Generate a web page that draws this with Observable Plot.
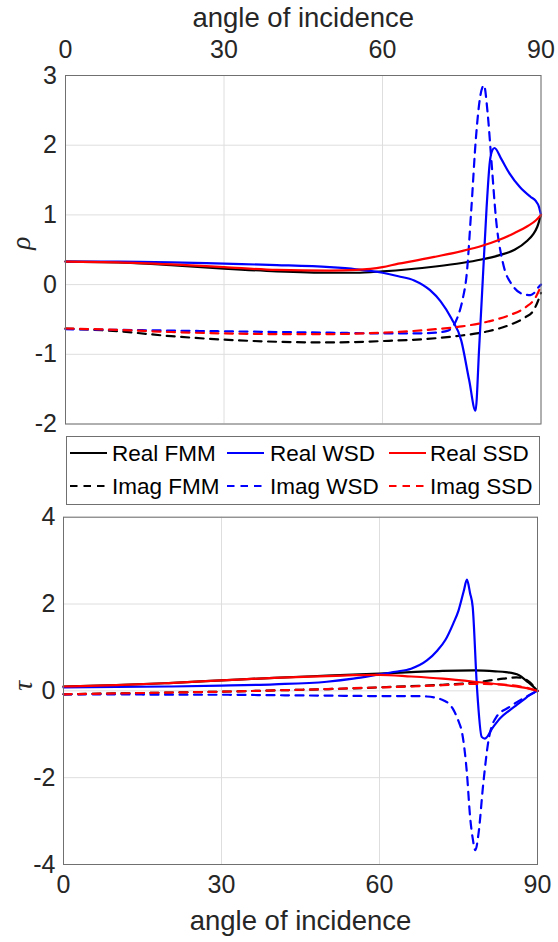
<!DOCTYPE html>
<html><head><meta charset="utf-8">
<script src="https://cdn.jsdelivr.net/npm/d3@7"></script>
<script src="https://cdn.jsdelivr.net/npm/@observablehq/plot@0.6"></script>
<style>
body{margin:0;background:#fff;}
#wrap{position:relative;width:558px;height:942px;font-family:'Liberation Sans',Arial,sans-serif;color:#262626;overflow:hidden;}
#top{position:absolute;left:0;top:0;}
#bot{position:absolute;left:0;top:505px;}
#legend{position:absolute;left:66px;top:436px;}
</style></head><body>
<div id="wrap"><div id="top"></div><div id="legend"></div><div id="bot"></div></div>
<script>
// ---- tick labels / axis text ----
const xTicks = [0, 30, 60, 90];
const rhoTicks = [-2, -1, 0, 1, 2, 3];
const tauTicks = [-4, -2, 0, 2, 4];
const xLabel = "angle of incidence";
const rhoLabel = "ρ";
const tauLabel = "τ";

// ---- series (legend order, row-wise) ----
const legendNames = ["Real FMM", "Real WSD", "Real SSD", "Imag FMM", "Imag WSD", "Imag SSD"];

// ρ panel
const rhoRealFMM_x = [0,10,20,30,40,50,55,60,65,70,75,78.7,82,85,87.4,88.5,89.3,90];
const rhoRealFMM_y = [0.33,0.32,0.28,0.23,0.19,0.17,0.17,0.19,0.22,0.26,0.31,0.36,0.42,0.5,0.63,0.72,0.83,1.0];
const rhoImagFMM_x = [0,10,20,30,40,50,60,70,75,80,84,87,88.5,89.3,90];
const rhoImagFMM_y = [-0.63,-0.67,-0.74,-0.79,-0.82,-0.83,-0.81,-0.77,-0.73,-0.67,-0.58,-0.47,-0.38,-0.26,-0.12];
const rhoRealWSD_x = [0,10,20,30,40,50,55,60,63,66,69,71,73,74.9,76.4,77.6,78.3,79.0,79.7,80.3,80.8,81.2,82.5,84,86,88,89,89.6,90];
const rhoRealWSD_y = [0.33,0.33,0.32,0.30,0.28,0.25,0.22,0.17,0.12,0.06,-0.08,-0.24,-0.48,-0.8,-1.37,-1.81,-0.9,0.1,1.1,1.75,1.93,1.96,1.8,1.6,1.4,1.26,1.2,1.12,1.0];
const rhoImagWSD_x = [0,10,20,30,40,50,60,66,70,72.4,73.5,74.3,75.2,75.9,76.8,77.7,78.5,79.2,79.9,80.6,81.5,82.8,84.7,86.8,88,88.7,89.6,90];
const rhoImagWSD_y = [-0.64,-0.65,-0.66,-0.67,-0.68,-0.69,-0.70,-0.70,-0.69,-0.66,-0.58,-0.45,-0.2,0.12,1.07,2.12,2.7,2.86,2.46,1.79,0.93,0.31,-0.02,-0.14,-0.15,-0.12,-0.03,0.0];
const rhoRealSSD_x = [0,10,20,30,40,50,55,60,63,66,70,75,79,82,85,87.5,89,90];
const rhoRealSSD_y = [0.33,0.32,0.29,0.25,0.21,0.2,0.21,0.25,0.3,0.34,0.40,0.48,0.56,0.64,0.74,0.84,0.92,1.0];
const rhoImagSSD_x = [0,10,20,30,40,50,60,65,70,75,80,84,87,89,90];
const rhoImagSSD_y = [-0.63,-0.65,-0.68,-0.70,-0.71,-0.71,-0.69,-0.67,-0.64,-0.60,-0.53,-0.44,-0.33,-0.18,-0.02];

// τ panel
const tauRealFMM_x = [0,10,20,30,40,50,60,66,72,78,82,84,86.5,88,89,90];
const tauRealFMM_y = [0.1,0.13,0.18,0.24,0.3,0.35,0.40,0.43,0.46,0.47,0.45,0.43,0.36,0.22,0.12,0.0];
const tauImagFMM_x = [0,10,20,30,40,50,60,66,72,76,78.5,81,83.5,86,87.5,88.5,89.3,90];
const tauImagFMM_y = [-0.08,-0.06,-0.04,-0.02,0.01,0.04,0.08,0.11,0.14,0.17,0.2,0.24,0.28,0.31,0.28,0.2,0.1,0.0];
const tauRealWSD_x = [0,10,20,30,40,50,55,60,63,66,69,71,72.5,74,75,76,76.6,77.2,77.7,78.5,79.4,80,81.6,83,84.7,86,87.2,88.5,90];
const tauRealWSD_y = [0.08,0.09,0.1,0.12,0.15,0.21,0.28,0.38,0.44,0.51,0.7,0.93,1.17,1.55,1.85,2.3,2.56,2.25,1.93,0.09,-1.06,-1.1,-0.83,-0.62,-0.45,-0.33,-0.22,-0.1,0.0];
const tauImagWSD_x = [0,10,20,30,40,50,60,66,69,71,72.2,73.2,74.1,75,75.7,76.6,77.2,77.7,78.2,78.8,79.7,80.7,82.2,84.7,87.2,90];
const tauImagWSD_y = [-0.08,-0.08,-0.09,-0.09,-0.1,-0.11,-0.12,-0.12,-0.13,-0.17,-0.22,-0.3,-0.45,-0.7,-0.98,-1.9,-2.9,-3.4,-3.67,-3.29,-2.14,-1.14,-0.6,-0.37,-0.18,0.0];
const tauRealSSD_x = [0,10,20,30,40,50,55,60,66,72,78,84,88,90];
const tauRealSSD_y = [0.1,0.13,0.18,0.24,0.3,0.34,0.36,0.37,0.33,0.28,0.21,0.13,0.06,0.0];
const tauImagSSD_x = [0,10,20,30,40,50,60,66,72,78,84,88,90];
const tauImagSSD_y = [-0.08,-0.06,-0.04,-0.02,0.01,0.04,0.08,0.1,0.13,0.16,0.14,0.07,0.0];

// ---- styles ----
const styleOf = {
  "Real FMM": {stroke: "#000000", dash: null},
  "Imag FMM": {stroke: "#000000", dash: "8,6.5"},
  "Real WSD": {stroke: "#0000ff", dash: null},
  "Imag WSD": {stroke: "#0000ff", dash: "8,6.5"},
  "Real SSD": {stroke: "#ff0000", dash: null},
  "Imag SSD": {stroke: "#ff0000", dash: "8,6.5"}
};
const drawOrder = ["Real FMM", "Imag FMM", "Real WSD", "Imag WSD", "Real SSD", "Imag SSD"];

const rows = (xs, ys) => xs.map((x, i) => ({x, y: ys[i]}));
const rhoSeries = {
  "Real FMM": rows(rhoRealFMM_x, rhoRealFMM_y), "Imag FMM": rows(rhoImagFMM_x, rhoImagFMM_y),
  "Real WSD": rows(rhoRealWSD_x, rhoRealWSD_y), "Imag WSD": rows(rhoImagWSD_x, rhoImagWSD_y),
  "Real SSD": rows(rhoRealSSD_x, rhoRealSSD_y), "Imag SSD": rows(rhoImagSSD_x, rhoImagSSD_y)
};
const tauSeries = {
  "Real FMM": rows(tauRealFMM_x, tauRealFMM_y), "Imag FMM": rows(tauImagFMM_x, tauImagFMM_y),
  "Real WSD": rows(tauRealWSD_x, tauRealWSD_y), "Imag WSD": rows(tauImagWSD_x, tauImagWSD_y),
  "Real SSD": rows(tauRealSSD_x, tauRealSSD_y), "Imag SSD": rows(tauImagSSD_x, tauImagSSD_y)
};

const FONT = "'Liberation Sans', Arial, sans-serif";
const TXT = "#262626";
const TICK_FS = 25, LABEL_FS = 27.5;
const fmt = d => String(d);
const lineMarks = (series) => drawOrder.map(name => Plot.line(series[name], {
  x: "x", y: "y", stroke: styleOf[name].stroke, strokeWidth: 2.2,
  strokeDasharray: styleOf[name].dash, curve: "monotone-x"
}));

// ---- top panel (ρ) ----
const topPlot = Plot.plot({
  width: 558, height: 430,
  marginLeft: 65, marginRight: 17.5, marginTop: 75, marginBottom: 6.5,
  style: {fontFamily: FONT, fontSize: "25px", color: TXT, background: "white", overflow: "visible"},
  x: {domain: [0, 90]},
  y: {domain: [-2, 3]},
  marks: [
    Plot.gridX(xTicks, {stroke: "#dedede", strokeOpacity: 1, strokeWidth: 1}),
    Plot.gridY(rhoTicks, {stroke: "#dedede", strokeOpacity: 1, strokeWidth: 1}),
    ...lineMarks(rhoSeries),
    Plot.frame({stroke: "#707070", strokeWidth: 1}),
    Plot.axisX(xTicks, {anchor: "top", tickSize: 0, tickPadding: 18, label: null, tickFormat: fmt, fontSize: TICK_FS, fill: TXT}),
    Plot.axisY(rhoTicks, {anchor: "left", tickSize: 0, tickPadding: 8.5, label: null, tickFormat: fmt, fontSize: TICK_FS, fill: TXT}),
    Plot.text([xLabel], {frameAnchor: "top", dy: -57, text: d => d, fontSize: LABEL_FS, fill: TXT, lineAnchor: "middle"}),
    Plot.text([rhoLabel], {frameAnchor: "left", dx: -44, text: d => d, rotate: -90, fontSize: LABEL_FS, fontStyle: "italic", fontFamily: "'Liberation Serif', serif", fill: TXT, lineAnchor: "middle"})
  ]
});
document.getElementById("top").appendChild(topPlot);

// ---- bottom panel (τ) ----
const botPlot = Plot.plot({
  width: 558, height: 437,
  marginLeft: 63, marginRight: 21, marginTop: 11.7, marginBottom: 78,
  style: {fontFamily: FONT, fontSize: "25px", color: TXT, background: "white", overflow: "visible"},
  x: {domain: [0, 90]},
  y: {domain: [-4, 4]},
  marks: [
    Plot.gridX(xTicks, {stroke: "#dedede", strokeOpacity: 1, strokeWidth: 1}),
    Plot.gridY(tauTicks, {stroke: "#dedede", strokeOpacity: 1, strokeWidth: 1}),
    ...lineMarks(tauSeries),
    Plot.frame({stroke: "#707070", strokeWidth: 1}),
    Plot.axisX(xTicks, {anchor: "bottom", tickSize: 0, tickPadding: 11, label: null, tickFormat: fmt, fontSize: TICK_FS, fill: TXT}),
    Plot.axisY(tauTicks, {anchor: "left", tickSize: 0, tickPadding: 8, label: null, tickFormat: fmt, fontSize: TICK_FS, fill: TXT}),
    Plot.text([xLabel], {frameAnchor: "bottom", dy: 57, text: d => d, fontSize: LABEL_FS, fill: TXT, lineAnchor: "middle"}),
    Plot.text([tauLabel], {frameAnchor: "left", dx: -40, text: d => d, rotate: -90, fontSize: LABEL_FS, fontStyle: "italic", fontFamily: "'Liberation Serif', serif", fill: TXT, lineAnchor: "middle"})
  ]
});
document.getElementById("bot").appendChild(botPlot);

// ---- legend ----
const legW = 473, legH = 68;
const colLine = [4, 161, 323], colText = [46, 204, 364], rowY = [17, 50];
const svg = d3.select("#legend").append("svg").attr("width", legW + 1).attr("height", legH + 1)
  .style("font-family", FONT);
svg.append("rect").attr("x", 0.5).attr("y", 0.5).attr("width", legW).attr("height", legH)
  .attr("fill", "white").attr("stroke", "#707070");
legendNames.forEach((name, i) => {
  const c = i % 3, r = Math.floor(i / 3);
  const g = svg.append("g");
  g.append("line").attr("x1", colLine[c]).attr("x2", colLine[c] + 37)
    .attr("y1", rowY[r]).attr("y2", rowY[r])
    .attr("stroke", styleOf[name].stroke).attr("stroke-width", 2.2)
    .attr("stroke-dasharray", styleOf[name].dash ? "7.5,6" : null);
  g.append("text").attr("x", colText[c]).attr("y", rowY[r]).attr("dy", "0.35em")
    .attr("font-size", 22.5).attr("fill", "#000").text(name);
});
</script>
</body></html>
